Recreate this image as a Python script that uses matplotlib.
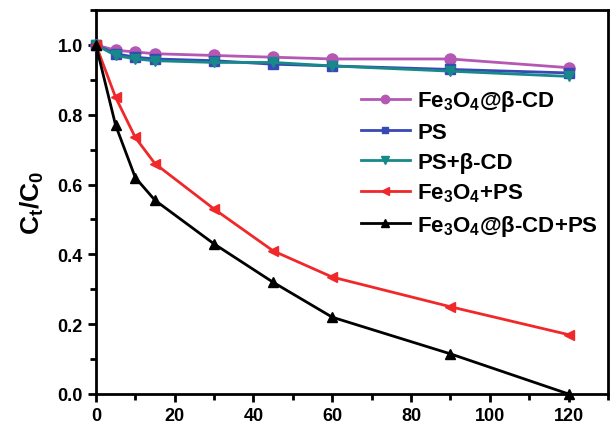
import matplotlib.pyplot as plt
from matplotlib.ticker import MultipleLocator

plt.rcParams["font.family"] = ["Liberation Sans", "DejaVu Sans"]
plt.rcParams["font.weight"] = "bold"
plt.rcParams["mathtext.fontset"] = "custom"
plt.rcParams["mathtext.rm"] = "Liberation Sans:bold"
plt.rcParams["mathtext.it"] = "Liberation Sans:bold"
plt.rcParams["mathtext.bf"] = "Liberation Sans:bold"

# ==============================
# DATOS
# ==============================

tiempo = [0, 5, 10, 15, 30, 45, 60, 90, 120]

fe3o4_bcd = [1.0, 0.985, 0.98, 0.975, 0.97, 0.965, 0.96, 0.96, 0.935]
ps = [1.0, 0.975, 0.965, 0.96, 0.955, 0.945, 0.94, 0.93, 0.92]
ps_bcd = [1.0, 0.97, 0.96, 0.955, 0.95, 0.95, 0.94, 0.925, 0.91]
fe3o4_ps = [1.0, 0.85, 0.735, 0.66, 0.53, 0.41, 0.335, 0.25, 0.17]
fe3o4_bcd_ps = [1.0, 0.77, 0.62, 0.555, 0.43, 0.32, 0.22, 0.115, 0.0]

etiquetas = [
    r"Fe$_3$O$_4$@β-CD",
    "PS",
    "PS+β-CD",
    r"Fe$_3$O$_4$+PS",
    r"Fe$_3$O$_4$@β-CD+PS",
]

# ==============================
# GRAFICO
# ==============================

fig = plt.figure(figsize=(6.11, 4.27), dpi=100)
ax = fig.add_axes([0.157, 0.075, 0.838, 0.899])

series = [
    (fe3o4_bcd, "#B458B4", "o", 8),
    (ps, "#3848B4", "s", 6.5),
    (ps_bcd, "#17898A", "v", 7.5),
    (fe3o4_ps, "#F0282A", "<", 7.5),
    (fe3o4_bcd_ps, "#000000", "^", 7.5),
]

for (valores, color, marcador, tam), etiqueta in zip(series, etiquetas):
    ax.plot(tiempo, valores, color=color, marker=marcador, markersize=tam,
            linewidth=2, label=etiqueta, clip_on=False, zorder=3)

ax.set_xlim(0, 130)
ax.set_ylim(0, 1.1)
ax.xaxis.set_major_locator(MultipleLocator(20))
ax.xaxis.set_minor_locator(MultipleLocator(10))
ax.yaxis.set_major_locator(MultipleLocator(0.2))
ax.yaxis.set_minor_locator(MultipleLocator(0.1))
ax.yaxis.set_major_formatter(plt.FuncFormatter(lambda v, p: f"{v:.1f}"))

ax.tick_params(which="major", direction="out", length=6, width=2, labelsize=13)
ax.tick_params(which="minor", direction="out", length=4, width=2)
for lado in ax.spines.values():
    lado.set_linewidth(2)

ax.set_ylabel(r"C$_t$/C$_0$", fontsize=19, fontweight="bold", labelpad=8)

ax.legend(loc="upper left", bbox_to_anchor=(0.478, 0.848), frameon=False,
          fontsize=16, handlelength=2.2, markerscale=0.75,
          labelspacing=0.39, handletextpad=0.35)

plt.savefig("out.png", dpi=100)
plt.close()
